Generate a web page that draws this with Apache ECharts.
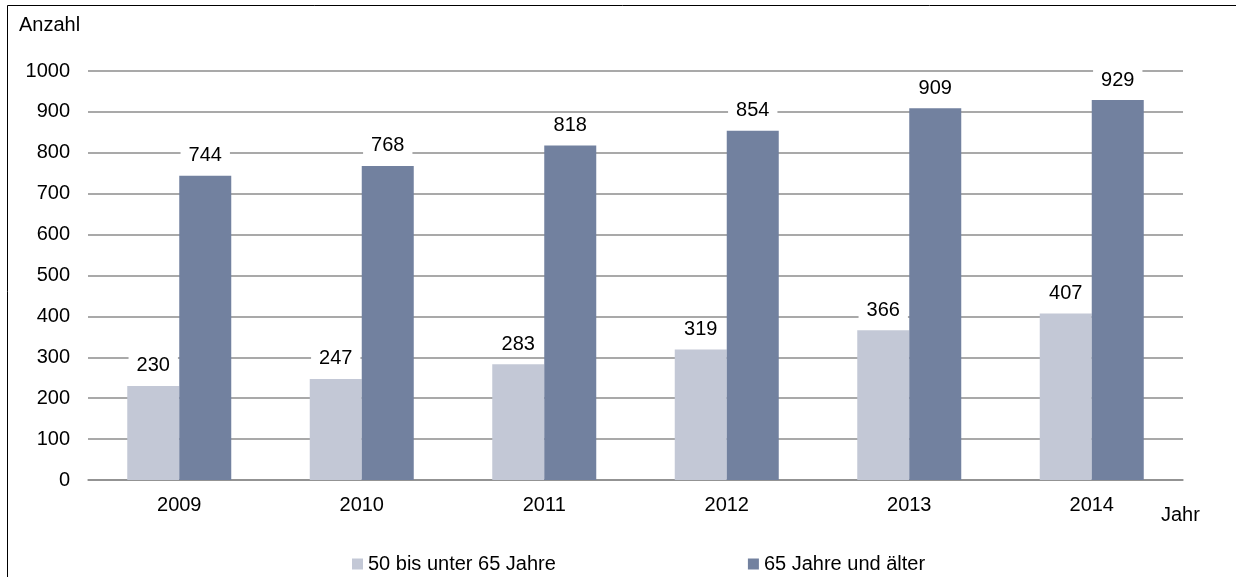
<!DOCTYPE html>
<html>
<head>
<meta charset="utf-8">
<script src="https://cdn.jsdelivr.net/npm/echarts@6/dist/echarts.min.js"></script>
<style>
  html, body { margin: 0; padding: 0; background: #fff; }
  #chart { width: 1236px; height: 577px; }
</style>
</head>
<body>
<div id="chart"></div>
<script>
const years = ['2009', '2010', '2011', '2012', '2013', '2014'];
const age50to65 = [230, 247, 283, 319, 366, 407];
const age65plus = [744, 768, 818, 854, 909, 929];
const seriesNames = ['50 bis unter 65 Jahre', '65 Jahre und älter'];

const font = 'Liberation Sans, Arial, sans-serif';
const chart = echarts.init(document.getElementById('chart'));

const labelStyle = {
  show: true,
  position: 'top',
  distance: 9,
  color: '#000',
  fontFamily: font,
  fontSize: 20,
  backgroundColor: '#fff',
  padding: [1, 8]
};

chart.setOption({
  animation: false,
  textStyle: { fontFamily: font },
  graphic: [
    {
      type: 'rect',
      shape: { x: 7.5, y: 5.5, width: 1400, height: 700 },
      style: { fill: 'none', stroke: '#000', lineWidth: 1 },
      silent: true
    },
    {
      type: 'text',
      left: 19, top: 15,
      style: { text: 'Anzahl', fill: '#000', font: '20px ' + font }
    },
    {
      type: 'text',
      left: 1161, top: 505,
      style: { text: 'Jahr', fill: '#000', font: '20px ' + font }
    }
  ],
  grid: { left: 88, right: 53, top: 71, bottom: 97 },
  legend: {
    bottom: 3,
    left: 352,
    padding: 0,
    itemGap: 192,
    itemWidth: 11,
    itemHeight: 11,
    icon: 'rect',
    textStyle: { fontSize: 20, color: '#000', fontFamily: font },
    data: seriesNames
  },
  xAxis: {
    type: 'category',
    data: years,
    axisLine: { lineStyle: { color: '#8c8c8c', width: 1.5 } },
    axisTick: { show: false },
    axisLabel: { color: '#000', fontSize: 20, margin: 15, fontFamily: font }
  },
  yAxis: {
    type: 'value',
    min: 0,
    max: 1000,
    interval: 100,
    axisLine: { show: false },
    axisTick: { show: false },
    axisLabel: { color: '#000', fontSize: 20, margin: 18, fontFamily: font, formatter: v => String(v) },
    splitLine: { lineStyle: { color: '#8c8c8c', width: 1.5 } }
  },
  series: [
    {
      name: seriesNames[0],
      type: 'bar',
      data: age50to65,
      barWidth: 52,
      barGap: '0%',
      itemStyle: { color: '#c3c8d6' },
      label: labelStyle
    },
    {
      name: seriesNames[1],
      type: 'bar',
      data: age65plus,
      barWidth: 52,
      barGap: '0%',
      itemStyle: { color: '#72819f' },
      label: labelStyle
    }
  ]
});
</script>
</body>
</html>
